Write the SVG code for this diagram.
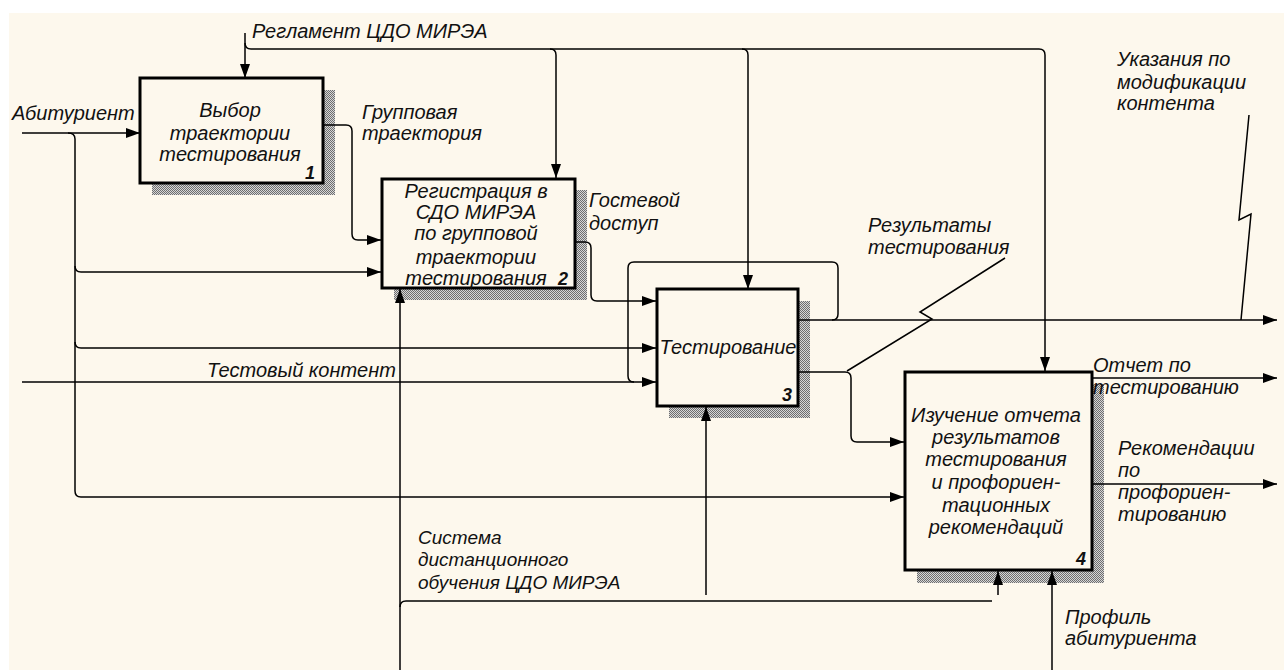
<svg xmlns="http://www.w3.org/2000/svg" width="1284" height="670" viewBox="0 0 1284 670">
<style>
.t{font-family:"Liberation Sans",Arial,sans-serif;font-style:italic;font-size:20px;fill:#111}
.bt{text-anchor:middle}
.num{font-family:"Liberation Sans",Arial,sans-serif;font-style:italic;font-weight:bold;font-size:18px;fill:#111;text-anchor:middle}
.box{fill:#fdf8ed;stroke:#000;stroke-width:3}
.sh{fill:url(#hatch)}
.c{fill:none;stroke:#000;stroke-width:1.5}
.ca{fill:none;stroke:#000;stroke-width:1.5;marker-end:url(#ah)}
</style>
<defs>
<pattern id="hatch" width="2" height="2" patternUnits="userSpaceOnUse">
<rect width="2" height="2" fill="#d6d6d6"/>
<rect width="1" height="1" fill="#6e6e6e"/>
<rect x="1" y="1" width="1" height="1" fill="#6e6e6e"/>
</pattern>
<marker id="ah" markerUnits="userSpaceOnUse" markerWidth="15" markerHeight="11" refX="14" refY="5" orient="auto">
<path d="M0,0 L14,5 L0,10 z" fill="#000"/>
</marker>
</defs>
<rect x="9" y="13" width="1275" height="657" fill="#fdf8ed"/>

<g id="node1">
<rect class="sh" x="152" y="90" width="183" height="105"/>
<rect class="box" x="140" y="78" width="183" height="105"/>
<text class="t bt" x="230" y="117">Выбор</text>
<text class="t bt" x="230" y="140">траектории</text>
<text class="t bt" x="230" y="161">тестирования</text>
<text class="num" x="310" y="179">1</text>
</g>

<g id="node2">
<rect class="sh" x="394" y="190" width="193" height="110"/>
<rect class="box" x="382" y="179" width="193" height="109"/>
<text class="t bt" x="476" y="198">Регистрация в</text>
<text class="t bt" x="476" y="219">СДО МИРЭА</text>
<text class="t bt" x="476" y="240">по групповой</text>
<text class="t bt" x="476" y="264">траектории</text>
<text class="t bt" x="476" y="285">тестирования</text>
<text class="num" x="563" y="285">2</text>
</g>

<g id="node3">
<rect class="sh" x="669" y="301" width="141" height="117"/>
<rect class="box" x="657" y="289" width="141" height="117"/>
<text class="t bt" x="728" y="354">Тестирование</text>
<text class="num" x="787" y="401">3</text>
</g>

<g id="node4">
<rect class="sh" x="917" y="384" width="187" height="199"/>
<rect class="box" x="905" y="372" width="187" height="198"/>
<text class="t bt" x="996" y="422">Изучение отчета</text>
<text class="t bt" x="996" y="444">результатов</text>
<text class="t bt" x="996" y="466">тестирования</text>
<text class="t bt" x="996" y="489">и профориен-</text>
<text class="t bt" x="996" y="512">тационных</text>
<text class="t bt" x="996" y="534">рекомендаций</text>
<text class="num" x="1081" y="565">4</text>
</g>

<g id="connectors">
<path class="ca" d="M245,33 V78"/>
<path class="c" d="M245,43 Q245,49 251,49 H1039 Q1045,49 1045,55"/>
<path class="ca" d="M550,49 Q556,49 556,55 V178"/>
<path class="ca" d="M742,49 Q748,49 748,55 V289"/>
<path class="ca" d="M1045,55 V371"/>
<path class="ca" d="M22,133 H140"/>
<path class="c" d="M68,133 Q75,133 75,139 V491 Q75,497 81,497"/>
<path class="ca" d="M81,497 H904"/>
<path class="ca" d="M75,266 Q75,272 81,272 H381"/>
<path class="ca" d="M75,342 Q75,348 81,348 H656"/>
<path class="ca" d="M323,125 H346 Q352,125 352,131 V234 Q352,240 358,240 H381"/>
<path class="ca" d="M575,242 H585 Q591,242 591,248 V295 Q591,301 597,301 H656"/>
<path class="ca" d="M22,382 H656"/>
<path class="c" d="M832,320 Q838,320 838,314 V268 Q838,262 832,262 H634 Q628,262 628,268 V376 Q628,382 634,382"/>
<path class="ca" d="M798,320 H1277"/>
<path class="ca" d="M798,372 H845 Q851,372 851,378 V436 Q851,442 857,442 H904"/>
<path class="ca" d="M400,670 V289"/>
<path class="c" d="M400,607 Q400,601 406,601 H992"/>
<path class="ca" d="M706,595 V407"/>
<path class="ca" d="M998,595 V571"/>
<path class="ca" d="M1052,670 V571"/>
<path class="ca" d="M1092,378 H1277"/>
<path class="ca" d="M1092,484 H1277"/>
<path class="c" d="M1005,258 L920,312 L932,319 L847,371"/>
<path class="c" d="M1249,115 L1239,220 L1251,214 L1241,320"/>
</g>

<g id="labels">
<text class="t" x="252" y="38">Регламент ЦДО МИРЭА</text>
<text class="t" x="12" y="120">Абитуриент</text>
<text class="t" x="362" y="119">Групповая</text>
<text class="t" x="362" y="140">траектория</text>
<text class="t" x="589" y="207">Гостевой</text>
<text class="t" x="589" y="230">доступ</text>
<text class="t" x="868" y="232">Результаты</text>
<text class="t" x="868" y="254">тестирования</text>
<text class="t" x="1117" y="66">Указания по</text>
<text class="t" x="1117" y="89">модификации</text>
<text class="t" x="1117" y="110">контента</text>
<text class="t" x="207" y="377">Тестовый контент</text>
<text class="t" x="1093" y="372">Отчет по</text>
<text class="t" x="1093" y="394">тестированию</text>
<text class="t" x="1118" y="455">Рекомендации</text>
<text class="t" x="1118" y="477">по</text>
<text class="t" x="1118" y="499">профориен-</text>
<text class="t" x="1118" y="521">тированию</text>
<text class="t" x="1065" y="624">Профиль</text>
<text class="t" x="1065" y="645">абитуриента</text>
<text class="t" x="418" y="544" style="font-size:19px">Система</text>
<text class="t" x="418" y="566" style="font-size:19px">дистанционного</text>
<text class="t" x="418" y="589" style="font-size:19px">обучения ЦДО МИРЭА</text>
</g>
</svg>
